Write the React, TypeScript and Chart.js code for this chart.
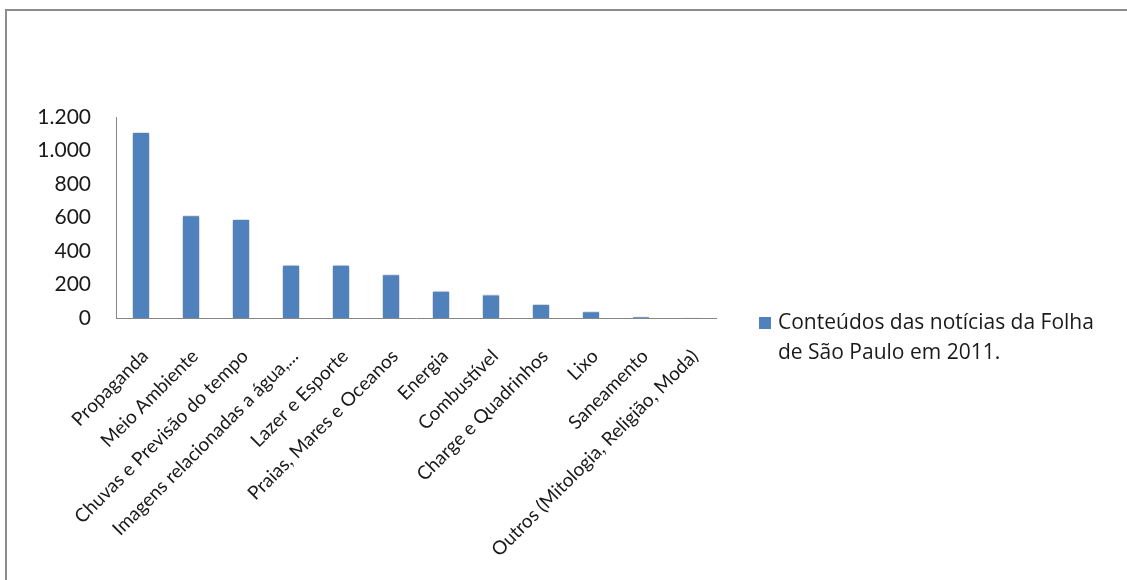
import React, { useEffect, useRef } from "react";
import { Chart, registerables } from "chart.js";

Chart.register(...registerables);

const categories: string[] = [
  "Propaganda",
  "Meio Ambiente",
  "Chuvas e Previsão do tempo",
  "Imagens relacionadas a água,...",
  "Lazer e Esporte",
  "Praias, Mares e Oceanos",
  "Energia",
  "Combustível",
  "Charge e Quadrinhos",
  "Lixo",
  "Saneamento",
  "Outros (Mitologia, Religião, Moda)",
];

const values: number[] = [1110, 613, 591, 318, 318, 261, 163, 141, 84, 40, 10, 2];

const legendLines: string[] = ["Conteúdos das notícias da Folha", "de São Paulo em 2011."];

const yTicks: number[] = [0, 200, 400, 600, 800, 1000, 1200];

const BAR_COLOR = "#4F81BD";
const TEXT_COLOR = "#1a1a1a";
const FONT = "Lato, 'Open Sans', 'Liberation Sans', sans-serif";
const LEGEND_FONT = "'Open Sans', Lato, 'Liberation Sans', sans-serif";

const fmt = (v: number) => String(v).replace(/\B(?=(\d{3})+(?!\d))/g, ".");

const shadowPlugin = {
  id: "barShadow",
  beforeDatasetsDraw(chart: any) {
    const ctx = chart.ctx;
    ctx.save();
    ctx.shadowColor = "rgba(0,0,0,0.30)";
    ctx.shadowBlur = 4;
    ctx.shadowOffsetX = 0;
    ctx.shadowOffsetY = 0;
  },
  afterDatasetsDraw(chart: any) {
    chart.ctx.restore();
  },
};

const legendPlugin = {
  id: "sideLegend",
  afterDraw(chart: any) {
    const ctx = chart.ctx;
    const area = chart.chartArea;
    const ds = chart.data.datasets[0];
    const x0 = area.right + 43;
    const y0 = area.bottom - 1;
    ctx.save();
    ctx.fillStyle = ds.backgroundColor;
    ctx.fillRect(x0, y0, 12, 12);
    ctx.fillStyle = TEXT_COLOR;
    ctx.font = `21px ${LEGEND_FONT}`;
    ctx.textBaseline = "middle";
    ctx.textAlign = "left";
    legendLines.forEach((line, i) => {
      ctx.fillText(line, x0 + 19, y0 + 6 + i * 30);
    });
    ctx.restore();
  },
};

export default function App() {
  const ref = useRef<HTMLCanvasElement | null>(null);

  useEffect(() => {
    if (!ref.current) return;
    const chart = new Chart(ref.current, {
      type: "bar",
      data: {
        labels: categories,
        datasets: [
          {
            label: legendLines.join(" "),
            data: values,
            backgroundColor: BAR_COLOR,
            borderColor: "rgba(255,255,255,0.9)",
            borderWidth: 1,
            barPercentage: 0.36,
            categoryPercentage: 1,
          },
        ],
      },
      options: {
        responsive: false,
        animation: false,
        layout: { padding: { top: 117, right: 411, bottom: 0, left: 0 } },
        plugins: {
          legend: { display: false },
          tooltip: { enabled: false },
          title: { display: false },
        },
        scales: {
          x: {
            grid: { display: false, drawTicks: false },
            border: { display: true, color: "#868686", width: 1 },
            ticks: {
              autoSkip: false,
              minRotation: 45,
              maxRotation: 45,
              padding: 27,
              labelOffset: 4,
              color: TEXT_COLOR,
              font: { family: FONT, size: 19 },
            },
            afterFit(scale: any) {
              scale.height = 262;
            },
          },
          y: {
            min: 0,
            max: 1200,
            grid: { display: false, drawTicks: false },
            border: { display: true, color: "#868686", width: 1 },
            afterBuildTicks(scale: any) {
              scale.ticks = yTicks.map((v) => ({ value: v }));
            },
            ticks: {
              padding: 25,
              color: TEXT_COLOR,
              font: { family: FONT, size: 21 },
              callback: (v: any) => fmt(Number(v)),
            },
            afterFit(scale: any) {
              scale.width = 116;
            },
          },
        },
      },
      plugins: [shadowPlugin, legendPlugin],
    });
    return () => chart.destroy();
  }, []);

  return (
    <div
      style={{
        position: "fixed",
        left: 0,
        top: 0,
        width: 1127,
        height: 580,
        overflow: "hidden",
        background: "#ffffff",
      }}
    >
      <div
        style={{
          position: "absolute",
          left: 5,
          top: 9,
          width: 1300,
          height: 800,
          borderTop: "2px solid #8c8c8c",
          borderLeft: "2px solid #8c8c8c",
        }}
      />
      <canvas
        ref={ref}
        width={1127}
        height={580}
        style={{ position: "absolute", left: 0, top: 0, display: "block" }}
      />
    </div>
  );
}
